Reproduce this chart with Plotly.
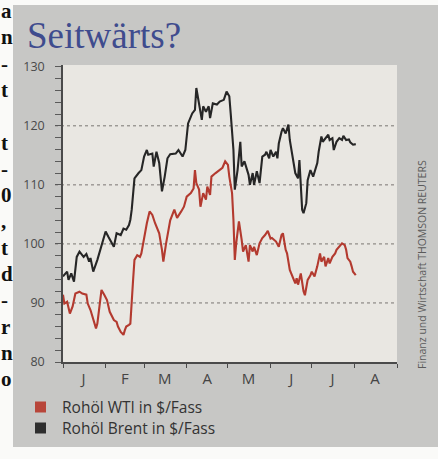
import pandas as pd
import plotly.graph_objects as go

# ---------------- data ----------------
start_date = "2011-01-01"
brent_days = [0,3,4,6,8,10,12,15,17,19,
              20,22,25,27,31,33,37,39,42,44,
              46,48,49,50,51,52,55,57,59,61,
              62,65,66,68,70,72,74,76,78,82,
              84,87,89,91,94,96,97,99,101,102,
              104,106,107,109,112,114,117,119,121,122,
              124,125,127,129,130,132,134,135,136,138,
              139,141,143,145,147,148,150,151,153,155,
              156,157,159,160,162,164,165,167,168,169,
              171,172,173,174,175,177,178,179,180,182,
              183,185,186,188,189,191,193,194,196,197,
              199,201,203,204,206,208,209,211,213]
brent_values = [94.5,95.3,93.9,95.0,93.6,97.8,98.7,97.8,98.3,97.0,
                97.6,95.3,97.3,99.0,102.1,101.2,99.5,101.8,101.5,102.6,
                102.4,103.2,104.1,105.8,108.0,111.1,112.0,112.5,114.8,115.9,
                115.1,115.3,113.1,115.6,113.7,108.9,111.4,114.5,115.2,115.3,
                115.9,114.8,115.9,120.4,122.1,122.7,126.4,123.3,121.0,123.3,
                122.4,123.3,121.3,123.8,123.6,124.1,124.4,125.8,125.0,122.1,
                115.9,109.2,112.5,117.3,113.1,114.0,112.5,111.7,110.0,112.0,
                110.0,112.3,110.3,114.8,115.1,115.6,114.5,115.9,114.8,115.6,
                114.5,117.0,119.0,119.6,118.7,120.2,117.6,114.2,113.4,112.0,
                111.1,114.2,109.7,105.8,105.2,106.9,110.8,111.7,112.5,111.4,
                112.3,113.7,115.6,118.2,117.3,117.9,118.5,117.6,117.9,115.9,
                117.3,117.9,117.6,118.3,117.6,117.7,117.2,116.8,116.9]

wti_days = [0,1,3,5,7,9,12,14,17,18,
            20,22,24,25,26,28,30,32,34,37,
            39,40,42,44,45,46,48,49,51,52,
            54,56,57,59,61,63,65,67,69,70,
            72,73,75,77,78,81,83,86,88,90,
            93,95,96,97,99,100,102,104,105,107,
            108,111,113,116,118,120,121,123,124,125,
            126,128,130,131,133,135,136,138,139,141,
            143,145,147,149,151,152,155,157,159,160,
            162,163,165,167,169,170,171,173,174,175,
            176,178,180,181,183,185,187,188,190,191,
            193,194,196,198,199,201,203,205,206,207,
            209,210,211,213]
wti_values = [91.4,89.9,90.2,88.2,89.4,91.6,91.9,91.6,91.4,89.9,
              88.8,87.1,85.7,86.5,88.8,92.2,91.4,90.5,88.5,87.1,
              86.8,86.0,85.1,84.6,85.4,86.0,86.3,86.5,93.9,97.3,
              98.1,97.8,98.4,101.2,103.5,105.5,104.9,103.5,102.1,101.8,
              99.0,97.0,100.1,102.4,104.0,105.8,104.4,105.5,106.3,108.0,
              108.6,109.4,112.5,110.3,109.2,106.3,108.6,107.5,109.7,108.3,
              111.4,112.0,112.3,112.9,114.0,113.4,111.4,108.6,104.1,97.3,
              100.1,103.8,100.7,98.7,99.8,97.0,99.8,98.7,99.5,98.1,
              100.1,101.0,101.5,102.2,100.9,101.0,100.4,99.5,101.5,101.8,
              99.0,98.4,95.6,94.5,93.3,94.2,93.1,95.0,93.1,92.0,
              91.3,93.9,94.7,95.3,94.5,96.2,98.4,97.0,97.8,96.2,
              97.6,96.7,97.8,98.4,99.0,99.5,100.1,99.8,99.0,97.6,
              97.0,96.2,95.3,94.7]

series_names = ["Rohöl WTI in $/Fass", "Rohöl Brent in $/Fass"]
month_mids = ["2011-01-16", "2011-02-15", "2011-03-16", "2011-04-16",
              "2011-05-16", "2011-06-16", "2011-07-16", "2011-08-16"]
month_labels = ["J", "F", "M", "A", "M", "J", "J", "A"]
y_tickvals = [80, 90, 100, 110, 120, 130]
grid_values = [90, 100, 110, 120]
title_text = "Seitwärts?"
credit_text = "Finanz und Wirtschaft THOMSON REUTERS"
# fragments of the neighbouring newspaper column (one per line, "" = empty line)
side_letters = ["a", "n", "-", "t", "", "t", "-", "0", ",", "t", "d", "-", "r", "n", "o"]

# ---------------- build ----------------
t0 = pd.Timestamp(start_date)
brent_x = [t0 + pd.Timedelta(days=d) for d in brent_days]
wti_x = [t0 + pd.Timedelta(days=d) for d in wti_days]

RED = "#b33a2f"
BLACK = "#262626"
LEG_COLORS = ["#b8463a", "#2e2e2e"]
PANEL = "#c7c7c5"
PLOTBG = "#e9e7e2"

W, H = 438, 459
ML, MR, MT, MB = 63, 41, 65, 97
PW, PH = W - ML - MR, H - MT - MB

def px_x(px):
    return (px - ML) / PW

def px_y(py):
    return (H - MB - py) / PH

fig = go.Figure()
fig.add_trace(go.Scatter(x=brent_x, y=brent_values, mode="lines",
                         line=dict(color=BLACK, width=2.1), showlegend=False,
                         name=series_names[1]))
fig.add_trace(go.Scatter(x=wti_x, y=wti_values, mode="lines",
                         line=dict(color=RED, width=2.1), showlegend=False,
                         name=series_names[0]))

shapes = [
    dict(type="rect", xref="paper", yref="paper", layer="below",
         x0=px_x(13), x1=px_x(438), y0=px_y(447), y1=px_y(5),
         fillcolor=PANEL, line=dict(width=0)),
    dict(type="rect", xref="paper", yref="paper", layer="below",
         x0=0, x1=1, y0=0, y1=1, fillcolor=PLOTBG, line=dict(width=0)),
]
for g in grid_values:
    shapes.append(dict(type="line", xref="paper", yref="y", layer="below",
                       x0=px_x(55), x1=1, y0=g, y1=g,
                       line=dict(color="#7a7672", width=1, dash="dot")))

annotations = [
    dict(text=title_text, xref="paper", yref="paper", x=px_x(25), y=px_y(36),
         xanchor="left", yanchor="middle", showarrow=False,
         font=dict(family="Liberation Serif", size=37, color="#3f4c8e")),
    dict(text=credit_text, xref="paper", yref="paper", x=px_x(422), y=px_y(265),
         xanchor="center", yanchor="middle", textangle=-90, showarrow=False,
         font=dict(family="Open Sans", size=10.5, color="#5a5a5a")),
]

# legend: squares + labels
for i, (name, col) in enumerate(zip(series_names, LEG_COLORS)):
    cy = 407 + 21 * i
    shapes.append(dict(type="rect", xref="paper", yref="paper",
                       x0=px_x(35), x1=px_x(46), y0=px_y(cy + 5.5), y1=px_y(cy - 5.5),
                       fillcolor=col, line=dict(width=0)))
    annotations.append(dict(text=name, xref="paper", yref="paper",
                            x=px_x(61), y=px_y(cy), xanchor="left", yanchor="middle",
                            showarrow=False, borderpad=0,
                            font=dict(family="Open Sans", size=15.5, color="#333333")))

for i, ch in enumerate(side_letters):
    if not ch:
        continue
    row = 11 + 26.3 * i
    annotations.append(dict(text="<b>%s</b>" % ch, xref="paper", yref="paper",
                            x=px_x(0), y=px_y(row),
                            xanchor="left", yanchor="middle", showarrow=False,
                            borderpad=0,
                            font=dict(family="Liberation Serif", size=21, color="#111111")))

fig.update_layout(
    width=W, height=H,
    margin=dict(l=ML, r=MR, t=MT, b=MB, pad=0),
    paper_bgcolor="#fafaf8",
    plot_bgcolor="rgba(0,0,0,0)",
    shapes=shapes,
    annotations=annotations,
    showlegend=False,
    xaxis=dict(range=["2011-01-01", "2011-09-01"], type="date",
               tickvals=month_mids, ticktext=month_labels, ticks="",
               showgrid=False, zeroline=False,
               showline=True, linecolor="#4a4a4a", linewidth=1.5,
               ticklabelstandoff=2,
               tickfont=dict(family="Open Sans", size=15, color="#444444"),
               minor=dict(tickmode="linear", tick0="2011-01-01", dtick="M1",
                          ticks="outside", ticklen=4, tickcolor="#4a4a4a",
                          showgrid=False)),
    yaxis=dict(range=[80, 130.3], tickvals=y_tickvals, ticks="outside",
               ticklen=6, tickcolor="#5a5a5a", tickwidth=1,
               showgrid=False, zeroline=False,
               showline=True, linecolor="#4a4a4a", linewidth=1.5,
               ticklabelstandoff=8,
               tickfont=dict(family="Open Sans", size=12.5, color="#4a4a4a"),
               minor=dict(dtick=2, tick0=80, ticks="outside", ticklen=6,
                          tickcolor="#5a5a5a", showgrid=False)),
)

fig.write_html("out.html")
